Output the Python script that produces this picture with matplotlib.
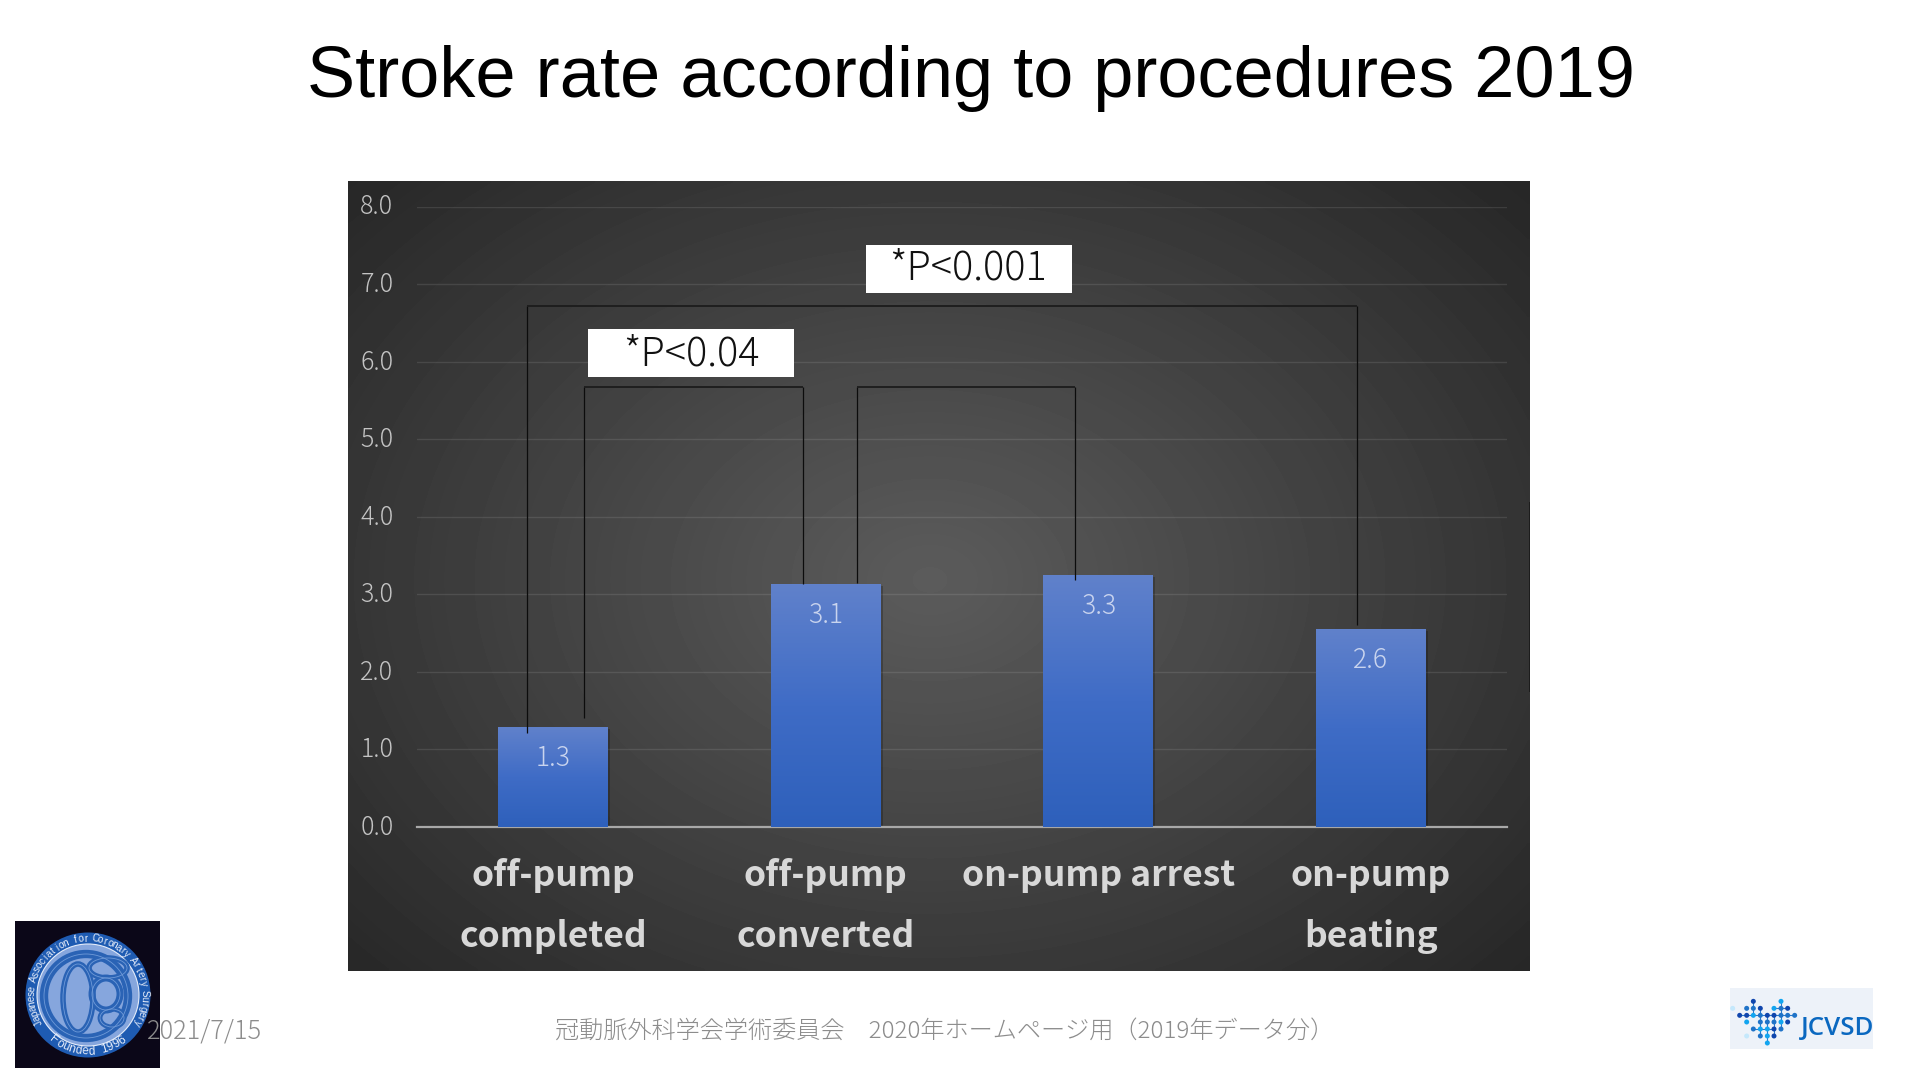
import numpy as np
import matplotlib
matplotlib.use('Agg')
import matplotlib.pyplot as plt
from matplotlib.patches import Rectangle, Circle, Ellipse
from matplotlib.colors import LinearSegmentedColormap
from matplotlib.transforms import ScaledTranslation

plt.rcParams['font.family'] = ['Noto Sans CJK JP', 'DejaVu Sans']

# data
categories = ['off-pump\ncompleted', 'off-pump\nconverted', 'on-pump arrest', 'on-pump\nbeating']
stroke_rate = [1.28, 3.13, 3.24, 2.55]
value_labels = ['1.3', '3.1', '3.3', '2.6']
y_ticks = [0, 1, 2, 3, 4, 5, 6, 7, 8]

# brackets: x in category units, y in rate units (left foot, right foot, top)
bracket_x = [(-0.096, 2.951), (0.114, 0.916), (1.115, 1.913)]
bracket_feet = [(1.21, 2.60), (1.41, 3.13), (3.15, 3.18)]
bracket_top = [6.72, 5.67, 5.67]

title = 'Stroke rate according to procedures 2019'
date_text = '2021/7/15'
footer_text = '冠動脈外科学会学術委員会\u30002020年ホームページ用（2019年データ分）'

W, H = 1920, 1080
fig = plt.figure(figsize=(19.2, 10.8), dpi=100, facecolor='white')

# full figure axes in pixel coordinates, for background and decoration
bg = fig.add_axes([0, 0, 1, 1], zorder=0)
bg.set_xlim(0, W)
bg.set_ylim(H, 0)
bg.axis('off')

# dark panel with radial gradient
panel = (348, 181, 1530, 971)
xx, yy = np.meshgrid(np.linspace(panel[0], panel[2], 300), np.linspace(panel[1], panel[3], 200))
r = np.sqrt(((xx - 930) / 640) ** 2 + ((yy - 580) / 470) ** 2)
shade = np.clip(0.36 - 0.165 * r, 0.155, 1)
bg.imshow(shade, extent=(panel[0], panel[2], panel[3], panel[1]), cmap='gray', vmin=0, vmax=1,
          aspect='auto', interpolation='bilinear', zorder=1)
bg.add_patch(Rectangle((1528.5, 502), 1.5, 190, color='#1c1c1c', lw=0, zorder=2))
bg.set_xlim(0, W)
bg.set_ylim(H, 0)

# chart
ax = fig.add_axes([417 / W, 1 - 827 / H, (1507 - 417) / W, (827 - 206.7) / H], zorder=1)
ax.patch.set_alpha(0)
ax.set_xlim(-0.5, 3.5)
ax.set_ylim(0, 8)
for s in ['top', 'left', 'right']:
    ax.spines[s].set_visible(False)
ax.spines['bottom'].set_color('#a8a8a8')
ax.spines['bottom'].set_linewidth(1.6)
ax.set_axisbelow(True)
ax.yaxis.grid(True, color='white', alpha=0.1, linewidth=1.0)
ax.set_yticks(y_ticks)
ax.set_yticklabels([f'{v:.1f}' for v in y_ticks], fontsize=18, color='#c4c4c4', fontweight='light')
ax.tick_params(axis='y', length=0, pad=17)
for lab in ax.get_yticklabels():
    lab.set_transform(lab.get_transform() + ScaledTranslation(0, 2.5 / 100, fig.dpi_scale_trans))
ax.set_xticks(range(len(categories)))
ax.set_xticklabels(categories, fontsize=25.5, color='#d8d8d8', fontweight='bold', linespacing=1.96)
ax.tick_params(axis='x', length=0, pad=22)

# bars with vertical gradient
bar_cmap = LinearSegmentedColormap.from_list('bar', ['#2e60bb', '#3f6cc6', '#6081cb'])
bars = ax.bar(range(len(categories)), stroke_rate, width=0.403, color='#3f6cc6', zorder=3)
grad = np.linspace(1, 0, 128).reshape(-1, 1)
for b, v, txt in zip(bars, stroke_rate, value_labels):
    x0, x1 = b.get_x(), b.get_x() + b.get_width()
    ax.add_patch(Rectangle((x0 + 0.004, 0), b.get_width() + 0.003, v - 0.02, color='black', alpha=0.22, lw=0, zorder=2))
    ax.imshow(grad, extent=(x0, x1, 0, v), cmap=bar_cmap, vmin=0, vmax=1, aspect='auto', zorder=3.1)
    ax.annotate(txt, (b.get_x() + b.get_width() / 2, v), xytext=(0, -21.8), textcoords='offset points',
                ha='center', va='center', fontsize=19, color='#c9d4ee', fontweight='light', zorder=4)
ax.set_xlim(-0.5, 3.5)
ax.set_ylim(0, 8)

# significance brackets
for (xl, xr), (fl, fr), top in zip(bracket_x, bracket_feet, bracket_top):
    ax.plot([xl, xl], [fl, top], color='#0c0c0c', lw=0.9, zorder=5, solid_capstyle='butt')
    ax.plot([xr, xr], [fr, top], color='#0c0c0c', lw=0.9, zorder=5, solid_capstyle='butt')
    ax.plot([xl, xr], [top, top], color='#1c1c1c', lw=1.3, zorder=5, solid_capstyle='butt')

# overlay for labels
top_ax = fig.add_axes([0, 0, 1, 1], zorder=2)
top_ax.set_xlim(0, W)
top_ax.set_ylim(H, 0)
top_ax.axis('off')

top_ax.add_patch(Rectangle((866, 245), 206, 48, color='white', lw=0))
top_ax.text(968, 269, '*P<0.001', ha='center', va='center', fontsize=28.5, color='#111111', fontweight='light')
top_ax.add_patch(Rectangle((588, 329), 206, 48, color='white', lw=0))
top_ax.text(691, 354, '*P<0.04', ha='center', va='center', fontsize=28.5, color='#111111', fontweight='light')

top_ax.text(970.5, 79, title, ha='center', va='center', fontsize=51.9, color='black', family='Liberation Sans')

# left logo
top_ax.add_patch(Rectangle((15, 921), 145, 147, color='#0b0718', lw=0, zorder=1))
cx, cy = 88, 995
top_ax.add_patch(Circle((cx, cy), 62.5, color='#1e5bb2', lw=0, zorder=1.1))
top_ax.add_patch(Circle((cx, cy), 51, fc='#86a6dd', ec='#e4ecfa', lw=0.8, zorder=1.2))
for (ex, ey, ew, eh, lw) in [(86, 996, 84, 84, 6), (106, 994, 28, 32, 5), (78, 998, 30, 68, 4),
                             (108, 968, 38, 20, 4), (112, 1018, 24, 18, 3.5)]:
    top_ax.add_patch(Ellipse((ex, ey), ew, eh, fc='none', ec='#2a63b5', lw=lw, zorder=1.3))
    top_ax.add_patch(Ellipse((ex, ey), ew, eh, fc='none', ec='#6f9ad8', lw=0.6, zorder=1.4))
ring_top = 'Japanese Association for Coronary Artery Surgery'
for i, ch in enumerate(ring_top):
    a = np.radians(-119 + 238 * i / (len(ring_top) - 1))
    top_ax.text(cx + 56.5 * np.sin(a), cy - 56.5 * np.cos(a), ch, fontsize=7.2, color='#e8eefa', ha='center',
                va='center', rotation=-np.degrees(a), rotation_mode='anchor', family='Liberation Sans', zorder=1.5)
ring_bottom = 'Founded 1996'
for i, ch in enumerate(ring_bottom):
    a = np.radians(-37 + 74 * i / (len(ring_bottom) - 1))
    top_ax.text(cx + 56.5 * np.sin(a), cy + 56.5 * np.cos(a), ch, fontsize=8.5, color='#e8eefa', ha='center',
                va='center', rotation=np.degrees(a), rotation_mode='anchor', family='Liberation Sans', zorder=1.5)

# right logo
top_ax.add_patch(Rectangle((1730, 988), 143, 61, color='#edf2f9', lw=0, zorder=1))
dark, mid, light, pale = '#0f45ad', '#1f73c8', '#12a5f0', '#c4e8fc'
logo_rows = [
    (124, [(220, dark), (303, light)]),
    (145, [(158, pale), (200, mid), (220, mid), (241, dark), (282, light), (303, mid), (323, dark)]),
    (166, [(179, dark), (200, dark), (220, light), (241, mid), (262, dark), (282, dark), (303, mid), (323, mid), (344, mid)]),
    (186, [(200, light), (241, mid), (262, mid), (282, mid), (303, light), (323, dark)]),
    (207, [(220, mid), (241, light), (262, light), (282, dark), (303, mid)]),
    (228, [(200, pale), (241, mid), (262, light), (282, dark)]),
    (249, [(262, light)]),
]
for zy, dots in logo_rows:
    for zx, c in dots:
        top_ax.add_patch(Circle((1680 + zx / 3, 960 + zy / 3), 2.5, color=c, lw=0, zorder=1.2))
for (zx0, zy0, zx1, zy1) in [(179, 166, 344, 166), (220, 124, 220, 166), (241, 145, 241, 228), (262, 166, 262, 249),
                             (282, 145, 323, 145), (303, 124, 303, 207), (282, 166, 282, 228), (220, 207, 282, 207)]:
    top_ax.plot([1680 + zx0 / 3, 1680 + zx1 / 3], [960 + zy0 / 3, 960 + zy1 / 3], color='#2a7acb', lw=0.8, zorder=1.1)
top_ax.text(1874, 1035, 'JCVSD', ha='right', va='baseline', fontsize=18.6, color='#0a68c0', family='Open Sans', fontweight='semibold', zorder=1.3)

# footer
top_ax.text(147, 1031, date_text, ha='left', va='center', fontsize=18.3, color='#8c8c8c', fontweight='light', zorder=3)
top_ax.text(945, 1031, footer_text, ha='center', va='center', fontsize=17.4, color='#8c8c8c', fontweight='light', zorder=3)

fig.savefig('out.png', dpi=100)
